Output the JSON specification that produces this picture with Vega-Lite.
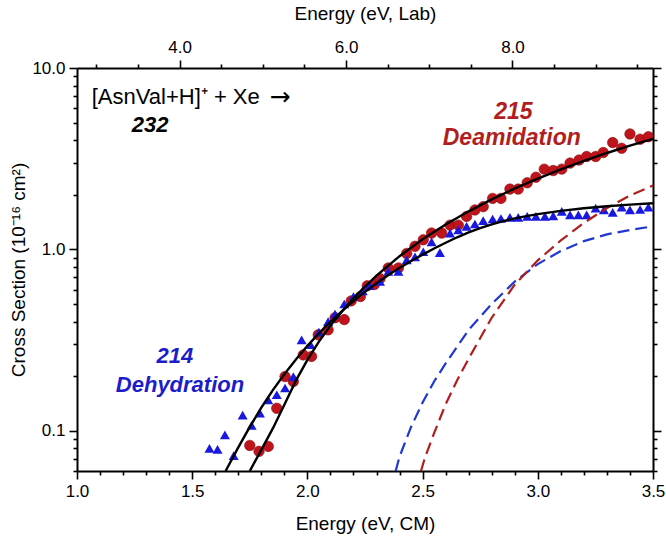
{
  "$schema": "https://vega.github.io/schema/vega-lite/v6.json",
  "width": 576,
  "height": 403,
  "autosize": "none",
  "padding": {"left": 77, "top": 68, "right": 13, "bottom": 74},
  "background": "white",
  "config": {
    "font": "Liberation Sans",
    "view": {"stroke": null},
    "axis": {
      "domainColor": "black", "domainWidth": 2, "tickColor": "black", "tickWidth": 1.6,
      "labelFont": "Liberation Sans", "labelFontSize": 17, "labelColor": "black",
      "titleFont": "Liberation Sans", "titleFontSize": 19, "titleFontWeight": "normal", "titleColor": "black",
      "grid": false, "labelOverlap": false, "labelFlush": false, "labelPadding": 4
    }
  },
  "datasets": {
    "red": [
      {"e": 1.75, "s": 0.083}, {"e": 1.79, "s": 0.077}, {"e": 1.83, "s": 0.082}, {"e": 1.867, "s": 0.133},
      {"e": 1.903, "s": 0.199}, {"e": 1.939, "s": 0.187}, {"e": 1.982, "s": 0.262}, {"e": 2.018, "s": 0.257},
      {"e": 2.047, "s": 0.338}, {"e": 2.09, "s": 0.36}, {"e": 2.12, "s": 0.42}, {"e": 2.16, "s": 0.41},
      {"e": 2.19, "s": 0.52}, {"e": 2.23, "s": 0.55}, {"e": 2.26, "s": 0.63}, {"e": 2.29, "s": 0.64},
      {"e": 2.315, "s": 0.69}, {"e": 2.351, "s": 0.79}, {"e": 2.395, "s": 0.79}, {"e": 2.431, "s": 0.95},
      {"e": 2.467, "s": 1.04}, {"e": 2.503, "s": 1.13}, {"e": 2.539, "s": 1.23}, {"e": 2.583, "s": 1.23},
      {"e": 2.619, "s": 1.36}, {"e": 2.655, "s": 1.36}, {"e": 2.691, "s": 1.52}, {"e": 2.727, "s": 1.65},
      {"e": 2.763, "s": 1.72}, {"e": 2.804, "s": 1.91}, {"e": 2.84, "s": 1.91}, {"e": 2.879, "s": 2.15},
      {"e": 2.915, "s": 2.15}, {"e": 2.954, "s": 2.33}, {"e": 2.992, "s": 2.5}, {"e": 3.028, "s": 2.77},
      {"e": 3.067, "s": 2.72}, {"e": 3.104, "s": 2.77}, {"e": 3.14, "s": 2.99}, {"e": 3.179, "s": 3.11},
      {"e": 3.212, "s": 3.25}, {"e": 3.251, "s": 3.25}, {"e": 3.284, "s": 3.42}, {"e": 3.325, "s": 3.88},
      {"e": 3.364, "s": 3.61}, {"e": 3.4, "s": 4.33}, {"e": 3.444, "s": 4.05}, {"e": 3.48, "s": 4.18}
    ],
    "blue": [
      {"e": 1.575, "s": 0.08}, {"e": 1.61, "s": 0.079}, {"e": 1.642, "s": 0.095}, {"e": 1.68, "s": 0.073},
      {"e": 1.719, "s": 0.122}, {"e": 1.758, "s": 0.107}, {"e": 1.794, "s": 0.125}, {"e": 1.83, "s": 0.148},
      {"e": 1.867, "s": 0.158}, {"e": 1.903, "s": 0.172}, {"e": 1.939, "s": 0.199}, {"e": 1.975, "s": 0.317},
      {"e": 2.014, "s": 0.298}, {"e": 2.05, "s": 0.35}, {"e": 2.09, "s": 0.4}, {"e": 2.12, "s": 0.44},
      {"e": 2.16, "s": 0.5}, {"e": 2.2, "s": 0.55}, {"e": 2.24, "s": 0.59}, {"e": 2.27, "s": 0.63},
      {"e": 2.315, "s": 0.665}, {"e": 2.351, "s": 0.755}, {"e": 2.395, "s": 0.755}, {"e": 2.431, "s": 0.875},
      {"e": 2.467, "s": 0.91}, {"e": 2.503, "s": 0.97}, {"e": 2.539, "s": 1.1}, {"e": 2.575, "s": 0.96},
      {"e": 2.619, "s": 1.23}, {"e": 2.655, "s": 1.28}, {"e": 2.691, "s": 1.34}, {"e": 2.727, "s": 1.38},
      {"e": 2.763, "s": 1.44}, {"e": 2.804, "s": 1.47}, {"e": 2.84, "s": 1.48}, {"e": 2.879, "s": 1.5},
      {"e": 2.915, "s": 1.5}, {"e": 2.954, "s": 1.52}, {"e": 2.992, "s": 1.52}, {"e": 3.031, "s": 1.52},
      {"e": 3.067, "s": 1.53}, {"e": 3.104, "s": 1.62}, {"e": 3.14, "s": 1.55}, {"e": 3.176, "s": 1.55},
      {"e": 3.212, "s": 1.55}, {"e": 3.251, "s": 1.69}, {"e": 3.287, "s": 1.65}, {"e": 3.325, "s": 1.6},
      {"e": 3.364, "s": 1.71}, {"e": 3.4, "s": 1.65}, {"e": 3.444, "s": 1.66}, {"e": 3.48, "s": 1.71}
    ],
    "fits": [
      {"curve": "fit215", "e": 1.75, "s": 0.06}, {"curve": "fit215", "e": 1.8, "s": 0.0785},
      {"curve": "fit215", "e": 1.85, "s": 0.103}, {"curve": "fit215", "e": 1.9, "s": 0.139},
      {"curve": "fit215", "e": 1.95, "s": 0.189}, {"curve": "fit215", "e": 2.0, "s": 0.246},
      {"curve": "fit215", "e": 2.05, "s": 0.31}, {"curve": "fit215", "e": 2.1, "s": 0.38},
      {"curve": "fit215", "e": 2.15, "s": 0.455}, {"curve": "fit215", "e": 2.2, "s": 0.537},
      {"curve": "fit215", "e": 2.25, "s": 0.624}, {"curve": "fit215", "e": 2.3, "s": 0.717},
      {"curve": "fit215", "e": 2.4, "s": 0.917}, {"curve": "fit215", "e": 2.5, "s": 1.136},
      {"curve": "fit215", "e": 2.6, "s": 1.371}, {"curve": "fit215", "e": 2.7, "s": 1.621},
      {"curve": "fit215", "e": 2.8, "s": 1.886}, {"curve": "fit215", "e": 2.9, "s": 2.167},
      {"curve": "fit215", "e": 3.0, "s": 2.457}, {"curve": "fit215", "e": 3.1, "s": 2.761},
      {"curve": "fit215", "e": 3.2, "s": 3.075}, {"curve": "fit215", "e": 3.3, "s": 3.4},
      {"curve": "fit215", "e": 3.4, "s": 3.73}, {"curve": "fit215", "e": 3.5, "s": 4.07},
      {"curve": "fit214", "e": 1.645, "s": 0.06}, {"curve": "fit214", "e": 1.7, "s": 0.081},
      {"curve": "fit214", "e": 1.75, "s": 0.105}, {"curve": "fit214", "e": 1.8, "s": 0.134},
      {"curve": "fit214", "e": 1.85, "s": 0.1675}, {"curve": "fit214", "e": 1.9, "s": 0.205},
      {"curve": "fit214", "e": 1.95, "s": 0.247}, {"curve": "fit214", "e": 2.0, "s": 0.294},
      {"curve": "fit214", "e": 2.05, "s": 0.344}, {"curve": "fit214", "e": 2.1, "s": 0.399},
      {"curve": "fit214", "e": 2.15, "s": 0.457}, {"curve": "fit214", "e": 2.2, "s": 0.519},
      {"curve": "fit214", "e": 2.25, "s": 0.583}, {"curve": "fit214", "e": 2.3, "s": 0.65},
      {"curve": "fit214", "e": 2.35, "s": 0.719}, {"curve": "fit214", "e": 2.4, "s": 0.791},
      {"curve": "fit214", "e": 2.45, "s": 0.863}, {"curve": "fit214", "e": 2.5, "s": 0.935},
      {"curve": "fit214", "e": 2.55, "s": 1.012}, {"curve": "fit214", "e": 2.6, "s": 1.088},
      {"curve": "fit214", "e": 2.65, "s": 1.166}, {"curve": "fit214", "e": 2.7, "s": 1.241},
      {"curve": "fit214", "e": 2.75, "s": 1.311}, {"curve": "fit214", "e": 2.8, "s": 1.372},
      {"curve": "fit214", "e": 2.85, "s": 1.43}, {"curve": "fit214", "e": 2.9, "s": 1.481},
      {"curve": "fit214", "e": 2.95, "s": 1.526}, {"curve": "fit214", "e": 3.0, "s": 1.565},
      {"curve": "fit214", "e": 3.1, "s": 1.631}, {"curve": "fit214", "e": 3.2, "s": 1.685},
      {"curve": "fit214", "e": 3.3, "s": 1.728}, {"curve": "fit214", "e": 3.4, "s": 1.764},
      {"curve": "fit214", "e": 3.5, "s": 1.797}
    ],
    "dashes": [
      {"curve": "dash214", "e": 2.383, "s": 0.06}, {"curve": "dash214", "e": 2.4, "s": 0.072},
      {"curve": "dash214", "e": 2.45, "s": 0.105}, {"curve": "dash214", "e": 2.5, "s": 0.143},
      {"curve": "dash214", "e": 2.55, "s": 0.187}, {"curve": "dash214", "e": 2.6, "s": 0.235},
      {"curve": "dash214", "e": 2.7, "s": 0.36}, {"curve": "dash214", "e": 2.8, "s": 0.5},
      {"curve": "dash214", "e": 2.9, "s": 0.665}, {"curve": "dash214", "e": 3.0, "s": 0.83},
      {"curve": "dash214", "e": 3.1, "s": 0.98}, {"curve": "dash214", "e": 3.2, "s": 1.11},
      {"curve": "dash214", "e": 3.3, "s": 1.21}, {"curve": "dash214", "e": 3.4, "s": 1.28},
      {"curve": "dash214", "e": 3.5, "s": 1.34},
      {"curve": "dash215", "e": 2.493, "s": 0.06}, {"curve": "dash215", "e": 2.51, "s": 0.071},
      {"curve": "dash215", "e": 2.55, "s": 0.097}, {"curve": "dash215", "e": 2.6, "s": 0.14},
      {"curve": "dash215", "e": 2.65, "s": 0.19}, {"curve": "dash215", "e": 2.7, "s": 0.25},
      {"curve": "dash215", "e": 2.8, "s": 0.42}, {"curve": "dash215", "e": 2.9, "s": 0.64},
      {"curve": "dash215", "e": 3.0, "s": 0.87}, {"curve": "dash215", "e": 3.1, "s": 1.12},
      {"curve": "dash215", "e": 3.2, "s": 1.4}, {"curve": "dash215", "e": 3.3, "s": 1.69},
      {"curve": "dash215", "e": 3.4, "s": 1.98}, {"curve": "dash215", "e": 3.5, "s": 2.25}
    ]
  },
  "layer": [
    {
      "encoding": {
        "x": {
          "field": "e", "type": "quantitative",
          "scale": {"domain": [1, 3.5], "nice": false, "zero": false},
          "axis": {
            "orient": "bottom", "title": "Energy (eV, CM)",
            "values": [1, 1.1, 1.2, 1.3, 1.4, 1.5, 1.6, 1.7, 1.8, 1.9, 2, 2.1, 2.2, 2.3, 2.4, 2.5, 2.6, 2.7, 2.8, 2.9, 3, 3.1, 3.2, 3.3, 3.4, 3.5],
            "labelExpr": "abs(datum.value*2-round(datum.value*2))<0.001 ? format(datum.value,'.1f') : ''",
            "tickSize": {"condition": {"test": "abs(datum.value*2-round(datum.value*2))<0.001", "value": 8}, "value": 4},
            "titlePadding": 15
          }
        },
        "y": {
          "field": "s", "type": "quantitative",
          "scale": {"type": "log", "domain": [0.06, 10], "nice": false},
          "axis": {
            "orient": "left", "title": "Cross Section (10⁻¹⁶ cm²)",
            "values": [0.06, 0.07, 0.08, 0.09, 0.1, 0.2, 0.3, 0.4, 0.5, 0.6, 0.7, 0.8, 0.9, 1, 2, 3, 4, 5, 6, 7, 8, 9, 10],
            "labelExpr": "(datum.value==0.1||datum.value==1||datum.value==10) ? format(datum.value,'.1f') : ''",
            "tickSize": {"condition": {"test": "datum.value==0.1||datum.value==1||datum.value==10", "value": 8}, "value": 4},
            "titlePadding": 3
          }
        }
      },
      "layer": [
        {
          "data": {"name": "red"},
          "mark": {"type": "point", "shape": "circle", "filled": true, "size": 110, "color": "#C0141C", "stroke": "#8A0A0A", "strokeWidth": 0.6, "opacity": 1, "clip": true}
        },
        {
          "data": {"name": "blue"},
          "mark": {"type": "point", "shape": "triangle-up", "filled": true, "size": 100, "color": "#1818E0", "opacity": 1, "clip": true}
        },
        {
          "data": {"name": "dashes"},
          "mark": {"type": "line", "strokeWidth": 2.2, "strokeDash": [12, 6], "clip": true},
          "encoding": {
            "detail": {"field": "curve"},
            "color": {"field": "curve", "type": "nominal", "scale": {"domain": ["dash214", "dash215"], "range": ["#2038D0", "#B01E1E"]}, "legend": null}
          }
        },
        {
          "data": {"name": "fits"},
          "mark": {"type": "line", "strokeWidth": 2.4, "color": "black", "clip": true},
          "encoding": {"detail": {"field": "curve"}}
        },
        {
          "data": {"values": [{"e": 1.064, "s": 6.95, "label": "[AsnVal+H]⁺ + Xe"}]},
          "mark": {"type": "text", "align": "left", "baseline": "middle", "fontSize": 22, "font": "Liberation Sans", "color": "black"},
          "encoding": {"text": {"field": "label"}}
        },
        {
          "data": {"values": [{"e": 1.835, "s": 6.95, "label": "→"}]},
          "mark": {"type": "text", "align": "left", "baseline": "middle", "fontSize": 25, "font": "DejaVu Sans", "color": "black"},
          "encoding": {"text": {"field": "label"}}
        },
        {
          "data": {"values": [{"e": 1.317, "s": 4.85, "label": "232"}]},
          "mark": {"type": "text", "align": "center", "baseline": "middle", "fontSize": 22, "font": "Liberation Sans", "fontWeight": "bold", "fontStyle": "italic", "color": "black"},
          "encoding": {"text": {"field": "label"}}
        },
        {
          "data": {"values": [{"e": 2.894, "s": 5.75, "label": "215"}, {"e": 2.887, "s": 4.1, "label": "Deamidation"}]},
          "mark": {"type": "text", "align": "center", "baseline": "middle", "fontSize": 23, "font": "Liberation Sans", "fontWeight": "bold", "fontStyle": "italic", "color": "#B01E1E"},
          "encoding": {"text": {"field": "label"}}
        },
        {
          "data": {"values": [{"e": 1.425, "s": 0.257, "label": "214"}, {"e": 1.447, "s": 0.179, "label": "Dehydration"}]},
          "mark": {"type": "text", "align": "center", "baseline": "middle", "fontSize": 22, "font": "Liberation Sans", "fontWeight": "bold", "fontStyle": "italic", "color": "#1C1CC8"},
          "encoding": {"text": {"field": "label"}}
        }
      ]
    },
    {
      "data": {"values": [{"lab": 4, "s": 1}]},
      "mark": {"type": "point", "opacity": 0},
      "encoding": {
        "x": {
          "field": "lab", "type": "quantitative",
          "scale": {"domain": [2.768, 9.688], "nice": false, "zero": false},
          "axis": {
            "orient": "top", "title": "Energy (eV, Lab)",
            "values": [3, 3.5, 4, 4.5, 5, 5.5, 6, 6.5, 7, 7.5, 8, 8.5, 9, 9.5],
            "labelExpr": "(datum.value==4||datum.value==6||datum.value==8) ? format(datum.value,'.1f') : ''",
            "tickSize": {"condition": {"test": "datum.value==4||datum.value==6||datum.value==8", "value": 8}, "value": 4},
            "titlePadding": 15
          }
        },
        "y": {
          "field": "s", "type": "quantitative",
          "scale": {"type": "log", "domain": [0.06, 10], "nice": false},
          "axis": {
            "orient": "right", "title": null, "labels": false,
            "values": [0.06, 0.07, 0.08, 0.09, 0.1, 0.2, 0.3, 0.4, 0.5, 0.6, 0.7, 0.8, 0.9, 1, 2, 3, 4, 5, 6, 7, 8, 9, 10],
            "tickSize": {"condition": {"test": "datum.value==0.1||datum.value==1||datum.value==10", "value": 8}, "value": 4}
          }
        }
      }
    }
  ],
  "resolve": {"scale": {"x": "independent", "y": "independent"}, "axis": {"x": "independent", "y": "independent"}}
}
